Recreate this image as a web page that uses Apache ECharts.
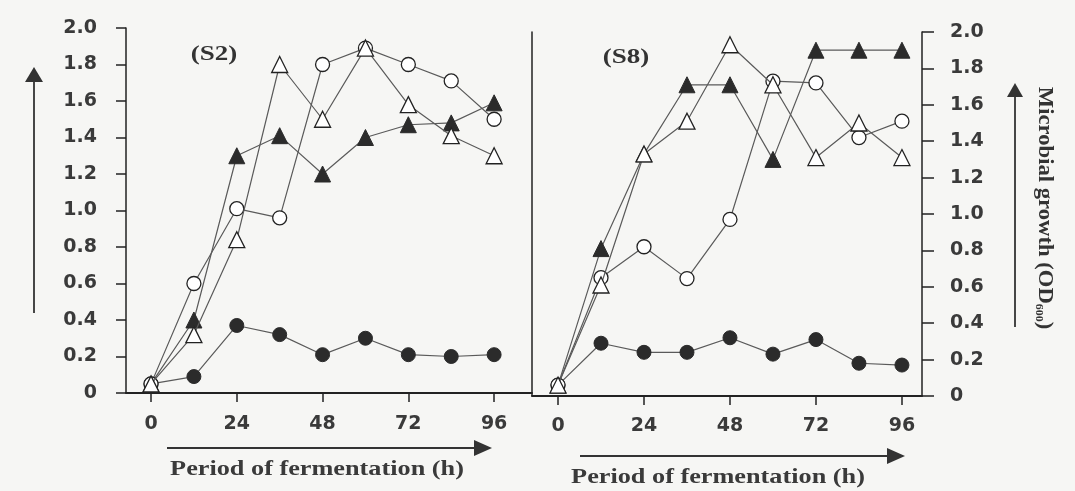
<!DOCTYPE html>
<html>
<head>
<meta charset="utf-8">
<script src="https://cdn.jsdelivr.net/npm/echarts@6/dist/echarts.min.js"></script>
<style>
html,body{margin:0;padding:0;background:#f6f6f4;}
#c{width:1075px;height:491px;}
</style>
</head>
<body>
<div id="c"></div>
<script>
// ---- data ----
const hours = [0, 12, 24, 36, 48, 60, 72, 84, 96];
const xTickValues = [0, 24, 48, 72, 96];

// Panel S2
const s2FilledCircle   = [0.05, 0.09, 0.37, 0.32, 0.21, 0.30, 0.21, 0.20, 0.21];
const s2OpenCircle     = [0.05, 0.60, 1.01, 0.96, 1.80, 1.89, 1.80, 1.71, 1.50];
const s2OpenTriangle   = [0.05, 0.32, 0.84, 1.80, 1.50, 1.89, 1.58, 1.41, 1.30];
const s2FilledTriangle = [0.05, 0.40, 1.30, 1.41, 1.20, 1.40, 1.47, 1.48, 1.59];

// Panel S8
const s8FilledCircle   = [0.06, 0.29, 0.24, 0.24, 0.32, 0.23, 0.31, 0.18, 0.17];
const s8OpenCircle     = [0.06, 0.65, 0.82, 0.645, 0.97, 1.73, 1.72, 1.42, 1.51];
const s8OpenTriangle   = [0.06, 0.61, 1.33, 1.51, 1.93, 1.71, 1.31, 1.50, 1.31];
const s8FilledTriangle = [0.06, 0.81, 1.33, 1.71, 1.71, 1.30, 1.90, 1.90, 1.90];

const panelLabels = ['(S2)', '(S8)'];
const xTitle = 'Period of fermentation (h)';

// ---- chart ----
const chart = echarts.init(document.getElementById('c'), null, {renderer: 'canvas'});
const ink = '#2b2b2b';
const tickFont = {fontFamily: 'DejaVu Sans', fontWeight: 'bold', fontSize: 19, color: '#3a3a3a'};

function pts(vals) { return hours.map((h, i) => [h, vals[i]]); }
function mk(vals, g, shape, filled, z) {
  return {
    type: 'line', xAxisIndex: g, yAxisIndex: g === 0 ? 0 : 2,
    data: pts(vals), symbol: shape, symbolSize: shape === 'circle' ? 14 : 16,
    showSymbol: true, z: z,
    lineStyle: {color: '#5a5a5a', width: 1.2},
    itemStyle: filled ? {color: ink, borderColor: ink, borderWidth: 1}
                      : {color: '#ffffff', borderColor: '#222', borderWidth: 1.3},
    emphasis: {disabled: true}
  };
}
function xAx(g, min, max, margin) {
  return {
    type: 'value', gridIndex: g, min: min, max: max,
    axisLine: {show: true, onZero: false, lineStyle: {color: '#222', width: 1.8}},
    axisTick: {show: true, customValues: xTickValues, length: 9, lineStyle: {color: '#222', width: 1.5}},
    axisLabel: Object.assign({customValues: xTickValues, margin: margin}, tickFont),
    splitLine: {show: false}
  };
}
const yFmt = v => (v === 0 ? '0' : v.toFixed(1));

chart.setOption({
  backgroundColor: '#f6f6f4',
  animation: false,
  grid: [
    {left: 126, top: 28, width: 406, height: 365},
    {left: 532, top: 32, width: 390, height: 364}
  ],
  xAxis: [xAx(0, -7.0, 106.6, 22), xAx(1, -7.26, 101.6, 21)],
  yAxis: [
    {type: 'value', gridIndex: 0, min: 0, max: 2, interval: 0.2, position: 'left',
     axisLine: {show: true, onZero: false, lineStyle: {color: '#222', width: 1.5}},
     axisTick: {show: true, length: 10, lineStyle: {color: '#222', width: 1.5}},
     axisLabel: Object.assign({margin: 29, formatter: yFmt}, tickFont),
     splitLine: {show: false}},
    {type: 'value', gridIndex: 1, min: 0, max: 2, interval: 0.2, position: 'left',
     axisLine: {show: true, onZero: false, lineStyle: {color: '#222', width: 1.5}},
     axisTick: {show: false}, axisLabel: {show: false}, splitLine: {show: false}},
    {type: 'value', gridIndex: 1, min: 0, max: 2, interval: 0.2, position: 'right',
     axisLine: {show: true, onZero: false, lineStyle: {color: '#222', width: 1.5}},
     axisTick: {show: true, length: 12, lineStyle: {color: '#222', width: 1.5}},
     axisLabel: Object.assign({margin: 28, formatter: yFmt}, tickFont),
     splitLine: {show: false}}
  ],
  series: [
    mk(s2FilledCircle, 0, 'circle', true, 2),
    mk(s2FilledTriangle, 0, 'triangle', true, 3),
    mk(s2OpenCircle, 0, 'circle', false, 4),
    mk(s2OpenTriangle, 0, 'triangle', false, 5),
    mk(s8FilledCircle, 1, 'circle', true, 2),
    mk(s8FilledTriangle, 1, 'triangle', true, 3),
    mk(s8OpenCircle, 1, 'circle', false, 4),
    mk(s8OpenTriangle, 1, 'triangle', false, 5)
  ],
  graphic: [
    // panel labels
    {type: 'text', x: 214, y: 55, scaleX: 1.35,
     style: {text: panelLabels[0], font: 'bold 20px "Liberation Serif"', fill: '#333', align: 'center', verticalAlign: 'middle'}},
    {type: 'text', x: 626, y: 58, scaleX: 1.35,
     style: {text: panelLabels[1], font: 'bold 20px "Liberation Serif"', fill: '#333', align: 'center', verticalAlign: 'middle'}},
    // x titles
    {type: 'text', x: 317, y: 470, scaleX: 1.25,
     style: {text: xTitle, font: 'bold 21px "Liberation Serif"', fill: '#3a3a3a', align: 'center', verticalAlign: 'middle'}},
    {type: 'text', x: 718, y: 478, scaleX: 1.25,
     style: {text: xTitle, font: 'bold 21px "Liberation Serif"', fill: '#3a3a3a', align: 'center', verticalAlign: 'middle'}},
    // right axis title (vertical)
    {type: 'text', x: 1044, y: 208, rotation: -Math.PI / 2, scaleX: 1.08,
     style: {text: '{a|Microbial growth (OD}{b|600}{a|)}', align: 'center', verticalAlign: 'middle',
       rich: {a: {font: 'bold 21px "Liberation Serif"', fill: '#333'},
              b: {font: 'bold 11px "Liberation Serif"', fill: '#333', verticalAlign: 'bottom', padding: [10, 0, 0, 0]}}}},
    // arrows
    {type: 'line', shape: {x1: 34, y1: 313, x2: 34, y2: 78}, style: {stroke: '#333', lineWidth: 1.8}},
    {type: 'polygon', shape: {points: [[34, 67], [25, 82], [43, 82]]}, style: {fill: '#333'}},
    {type: 'line', shape: {x1: 1015, y1: 327, x2: 1015, y2: 94}, style: {stroke: '#333', lineWidth: 1.8}},
    {type: 'polygon', shape: {points: [[1015, 83], [1007, 97], [1023, 97]]}, style: {fill: '#333'}},
    {type: 'line', shape: {x1: 167, y1: 448, x2: 478, y2: 448}, style: {stroke: '#333', lineWidth: 2}},
    {type: 'polygon', shape: {points: [[492, 448], [474, 440], [474, 456]]}, style: {fill: '#333'}},
    {type: 'line', shape: {x1: 580, y1: 456, x2: 891, y2: 456}, style: {stroke: '#333', lineWidth: 2}},
    {type: 'polygon', shape: {points: [[905, 456], [887, 448], [887, 464]]}, style: {fill: '#333'}}
  ]
});
</script>
</body>
</html>
